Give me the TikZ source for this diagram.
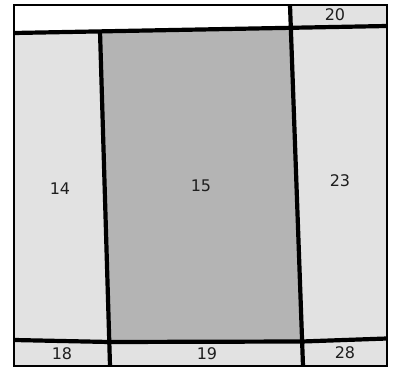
\documentclass[tikz,border=0pt]{standalone}
\usepackage{fontspec}
\setsansfont{DejaVu Sans}
\definecolor{cell-light}{HTML}{E2E2E2}
\definecolor{cell-dark}{HTML}{B4B4B4}
\definecolor{label-ink}{HTML}{1E1E1E}

\begin{document}
\begin{tikzpicture}[x=1pt, y=-1pt,
        wall/.style={line width=4.2pt, line cap=butt, line join=round},
        frame/.style={line width=2.6pt, line join=miter},
        lbl/.style={font=\sffamily\fontsize{16}{18}\selectfont, text=label-ink, inner sep=0pt}]
      \useasboundingbox (0,0) rectangle (397,369);
      % corner points of the rooms
      \coordinate (a1) at (14,5);   \coordinate (a2) at (290,5);    \coordinate (a3) at (387,5);
      \coordinate (c1) at (14,33);  \coordinate (c2) at (100,31.4); \coordinate (c3) at (290,27.8); \coordinate (c4) at (387,26);
      \coordinate (d1) at (14,340); \coordinate (d2) at (109.3,342); \coordinate (d3) at (302.1,341.5); \coordinate (d4) at (387,338.5);
      \coordinate (e1) at (14,366); \coordinate (e2) at (110,366);  \coordinate (e3) at (303,366);  \coordinate (e4) at (387,366);
      % fills
      \fill[white] (a1) -- (a2) -- (c3) -- (c1) -- cycle;
      \fill[cell-light] (a2) -- (a3) -- (c4) -- (c3) -- cycle;
      \fill[cell-light] (c1) -- (c2) -- (d2) -- (d1) -- cycle;
      \fill[cell-dark] (c2) -- (c3) -- (d3) -- (d2) -- cycle;
      \fill[cell-light] (c3) -- (c4) -- (d4) -- (d3) -- cycle;
      \fill[cell-light] (d1) -- (d2) -- (e2) -- (e1) -- cycle;
      \fill[cell-light] (d2) -- (d3) -- (e3) -- (e2) -- cycle;
      \fill[cell-light] (d3) -- (d4) -- (e4) -- (e3) -- cycle;
      % walls
      \draw[wall] (c1) -- (c4);
      \draw[wall] (d1) -- (d2) -- (d3) -- (d4);
      \draw[wall] (c2) -- (e2);
      \draw[wall] (a2) -- (e3);
      \draw[frame] (a1) rectangle (e4);
      % room numbers
      \node[lbl] (r20) at (335,15) {20};
      \node[lbl] (r14) at (60,189) {14};
      \node[lbl] (r15) at (201,186) {15};
      \node[lbl] (r23) at (340,181) {23};
      \node[lbl] (r18) at (62,354) {18};
      \node[lbl] (r19) at (207,354) {19};
      \node[lbl] (r28) at (345,353) {28};
    \end{tikzpicture}
\end{document}
